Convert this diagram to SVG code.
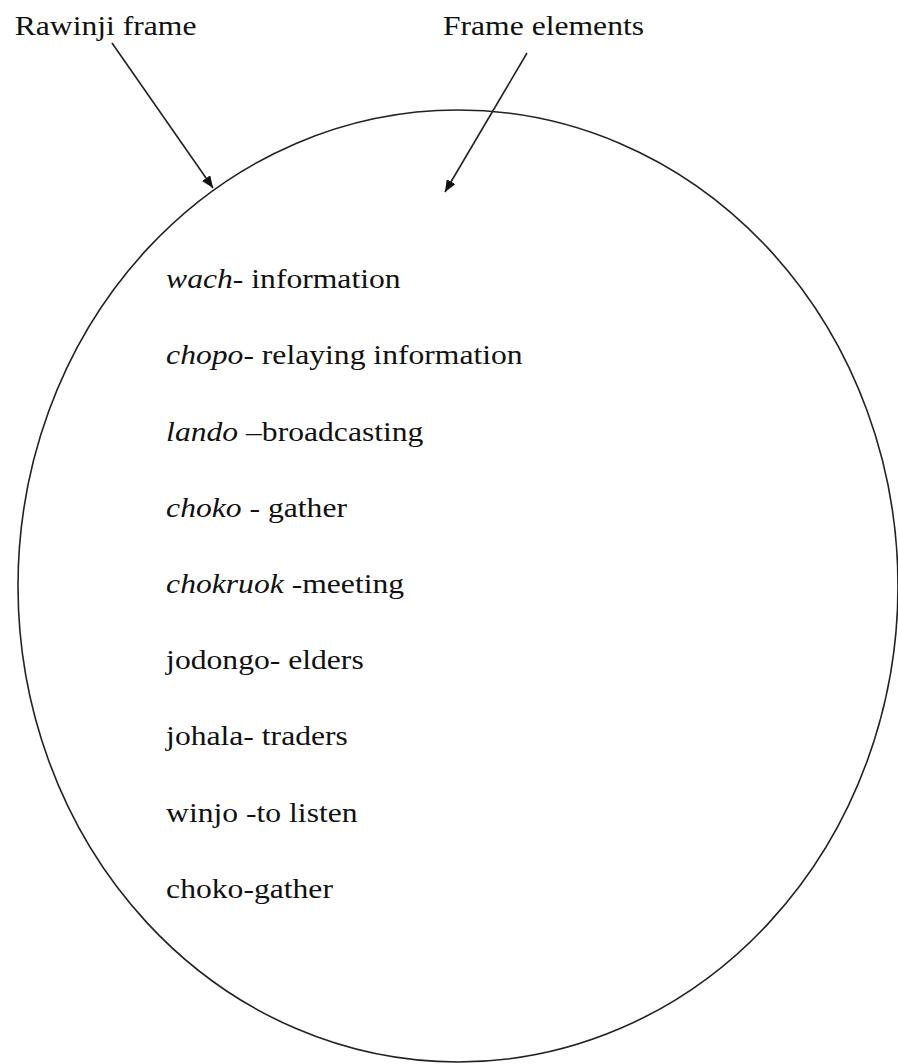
<svg xmlns="http://www.w3.org/2000/svg" width="898" height="1064" viewBox="0 0 898 1064">
  <style>
    .lbl { font-family: "Liberation Serif", "Times New Roman", serif; font-size: 28px; fill: #111; }
    .it { font-style: italic; }
    .edge { stroke: #222; stroke-width: 1.6; fill: none; }
  </style>
  <defs>
    <marker id="head" viewBox="0 0 12 10" refX="12" refY="5" markerWidth="12" markerHeight="10" markerUnits="userSpaceOnUse" orient="auto">
      <path d="M0,0 L12,5 L0,10 z" fill="#111"/>
    </marker>
  </defs>
  <rect width="898" height="1064" fill="#fff"/>

  <!-- frame boundary -->
  <g id="frame">
    <ellipse cx="458" cy="586" rx="440" ry="476" fill="none" stroke="#222" stroke-width="1.6"/>
  </g>

  <!-- headings -->
  <g id="label-rawinji" transform="scale(1.13 1)">
    <text class="lbl" x="13" y="35">Rawinji frame</text>
  </g>
  <g id="label-elements" transform="scale(1.13 1)">
    <text class="lbl" x="392" y="35">Frame elements</text>
  </g>

  <!-- pointers -->
  <g id="connectors">
    <line class="edge" x1="112" y1="43" x2="213" y2="188" marker-end="url(#head)"/>
    <line class="edge" x1="527" y1="53" x2="445" y2="192" marker-end="url(#head)"/>
  </g>

  <!-- list of frame elements -->
  <g id="elements" transform="scale(1.13 1)">
    <text class="lbl" x="147" y="288"><tspan class="it">wach</tspan>- information</text>
    <text class="lbl" x="147" y="364"><tspan class="it">chopo</tspan>- relaying information</text>
    <text class="lbl" x="147" y="441"><tspan class="it">lando</tspan> –broadcasting</text>
    <text class="lbl" x="147" y="517"><tspan class="it">choko</tspan> - gather</text>
    <text class="lbl" x="147" y="593"><tspan class="it">chokruok</tspan> -meeting</text>
    <text class="lbl" x="147" y="669">jodongo- elders</text>
    <text class="lbl" x="147" y="745">johala- traders</text>
    <text class="lbl" x="147" y="822">winjo -to listen</text>
    <text class="lbl" x="147" y="898">choko-gather</text>
  </g>
</svg>
